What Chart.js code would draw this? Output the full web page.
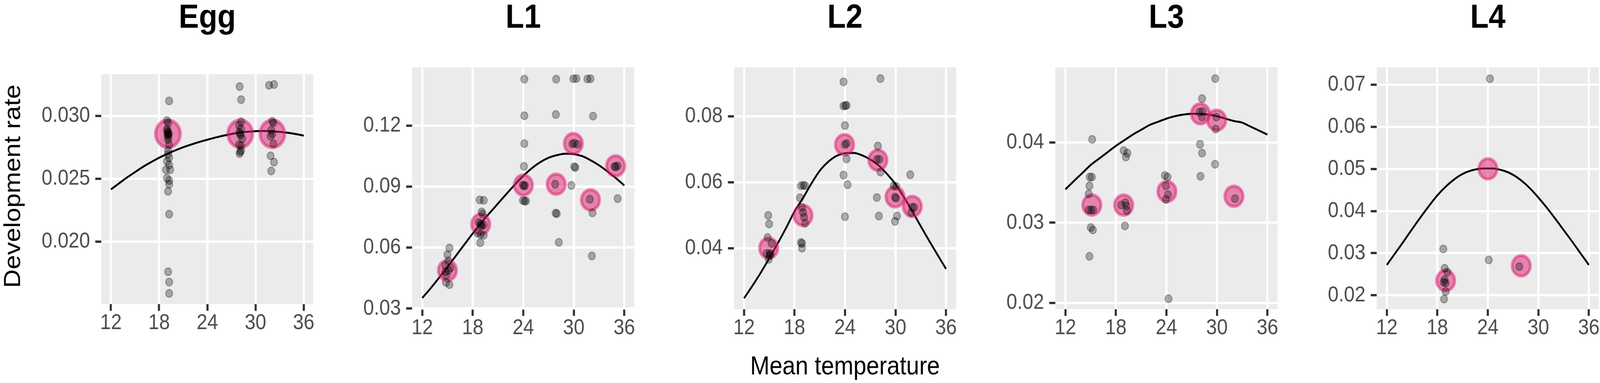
<!DOCTYPE html>
<html>
<head>
<meta charset="utf-8">
<script src="https://cdn.jsdelivr.net/npm/chart.js@4.4.1/dist/chart.umd.min.js"></script>
<style>
html,body{margin:0;padding:0;background:#ffffff;width:100%;height:100%;overflow:hidden;}
#stage{position:absolute;left:0;top:0;width:4550px;height:981px;overflow:hidden;transform-origin:0 0;background:#ffffff;}
canvas{position:absolute;}
.txt{position:absolute;font-family:"Liberation Sans",Arial,Helvetica,sans-serif;white-space:nowrap;text-align:center;color:#000;}
</style>
</head>
<body>
<div id="stage"></div>
<script>
// ---------------- DATA ----------------
const stages = ['Egg', 'L1', 'L2', 'L3', 'L4'];
const xTicks = [12, 18, 24, 30, 36];
const xTickLabels = ['12', '18', '24', '30', '36'];
const xLimits = [10.8, 37.2];
const curveTemps = [12,13,14,15,16,17,18,19,20,21,22,23,24,25,26,27,28,29,30,31,32,33,34,35,36];

// Egg
const eggYTicks = [0.020, 0.025, 0.030];
const eggYTickLabels = ['0.020', '0.025', '0.030'];
const eggYLimits = [0.01505, 0.03330];
const eggCurve = [0.02415,0.02463,0.02510,0.02553,0.02595,0.02632,0.02667,0.02697,0.02725,0.02750,0.02772,0.02792,0.02810,0.02827,0.02842,0.02855,0.02866,0.02873,0.02878,0.02879,0.02877,0.02872,0.02865,0.02855,0.02842];
const eggMeanTemp = [19.1, 28.1, 32.1];
const eggMeanRate = [0.02857, 0.02857, 0.02857];
const eggObsTemp = [19.25,18.98,19.12,19.00,19.12,19.20,19.05,19.15,19.10,19.00,19.05,19.15,19.25,19.12,19.12,19.25,18.98,19.25,18.85,19.38,18.98,19.25,19.25,19.12,19.25,19.12,19.25,19.25,
  28.03,28.21,28.21,27.95,28.21,28.08,28.00,28.15,28.35,27.95,28.21,28.21,28.08,28.03,
  31.69,32.31,32.09,32.23,31.96,32.09,31.88,32.23,31.88,32.31,31.96];
const eggObsRate = [0.03118,0.02962,0.02943,0.02895,0.02870,0.02857,0.02845,0.02830,0.02810,0.02880,0.02865,0.02850,0.02771,0.02724,0.02695,0.02667,0.02638,0.02610,0.02571,0.02571,0.02505,0.02486,0.02457,0.02400,0.02219,0.01762,0.01680,0.01590,
  0.03232,0.03128,0.02952,0.02924,0.02895,0.02857,0.02870,0.02845,0.02819,0.02771,0.02762,0.02724,0.02714,0.02700,
  0.03242,0.03248,0.02956,0.02943,0.02886,0.02857,0.02838,0.02777,0.02682,0.02632,0.02562];

// L1
const l1YTicks = [0.03, 0.06, 0.09, 0.12];
const l1YTickLabels = ['0.03', '0.06', '0.09', '0.12'];
const l1YLimits = [0.0297, 0.1487];
const l1Curve = [0.0352,0.0400,0.0452,0.0505,0.0560,0.0615,0.0670,0.0722,0.0770,0.0817,0.0864,0.0910,0.0953,0.0990,0.1020,0.1042,0.1055,0.1062,0.1060,0.1050,0.1030,0.1005,0.0975,0.0942,0.0906];
const l1MeanTemp = [14.99, 18.94, 24.01, 27.91, 29.95, 31.98, 34.97];
const l1MeanRate = [0.0488, 0.0715, 0.0908, 0.0912, 0.1112, 0.0835, 0.1002];
const l1ObsTemp = [15.23,14.99,15.11,15.35,14.75,14.75,15.11,14.87,14.82,15.23,
  18.82,19.30,19.06,19.18,18.94,18.70,19.30,19.06,18.94,18.58,19.30,18.94,18.89,
  24.13,24.13,24.13,24.08,23.96,24.20,24.08,23.96,24.32,24.16,
  27.91,27.87,27.79,27.84,27.98,28.22,
  29.95,30.31,30.06,29.83,30.43,30.06,30.19,29.71,
  31.62,31.98,32.29,31.91,32.22,32.15,
  34.85,35.21,34.97,35.21];
const l1ObsRate = [0.0598,0.0565,0.0535,0.0500,0.0512,0.0482,0.0488,0.0465,0.0429,0.0418,
  0.0835,0.0833,0.0776,0.0765,0.0718,0.0724,0.0712,0.0706,0.0710,0.0671,0.0661,0.0665,0.0624,
  0.1429,0.1249,0.1112,0.1000,0.0908,0.0906,0.0903,0.0832,0.0830,0.0828,
  0.1429,0.1255,0.0912,0.0770,0.0767,0.0626,
  0.1431,0.1432,0.1114,0.1110,0.1108,0.0998,0.0994,0.0906,
  0.1430,0.1431,0.1247,0.0838,0.0771,0.0559,
  0.0999,0.1002,0.0997,0.0841];

// L2
const l2YTicks = [0.04, 0.06, 0.08];
const l2YTickLabels = ['0.04', '0.06', '0.08'];
const l2YLimits = [0.0216, 0.0948];
const l2Curve = [0.0249,0.0287,0.0327,0.0370,0.0415,0.0462,0.0512,0.0552,0.0596,0.0635,0.0662,0.0680,0.0688,0.0689,0.0682,0.0669,0.0651,0.0625,0.0594,0.0555,0.0512,0.0467,0.0423,0.0380,0.0338];
const l2MeanTemp = [14.93, 19.01, 23.94, 27.90, 29.94, 31.99];
const l2MeanRate = [0.0401, 0.0500, 0.0714, 0.0667, 0.0556, 0.0527];
const l2ObsTemp = [14.88,14.98,14.81,15.29,14.69,15.05,15.17,14.93,15.00,
  18.77,19.06,19.25,18.65,18.89,19.01,19.13,19.25,18.77,18.89,18.89,
  23.82,23.82,24.18,24.05,23.99,23.99,24.18,24.18,23.82,24.30,23.99,
  28.21,27.90,27.78,28.09,28.21,27.78,28.02,
  29.78,30.06,29.94,30.06,30.18,29.94,
  31.75,31.99,32.23,31.87];
const l2ObsRate = [0.0500,0.0474,0.0433,0.0415,0.0385,0.0385,0.0382,0.0367,0.0378,
  0.0590,0.0591,0.0590,0.0553,0.0524,0.0509,0.0495,0.0476,0.0418,0.0415,0.0401,
  0.0904,0.0831,0.0833,0.0832,0.0772,0.0714,0.0718,0.0671,0.0622,0.0593,0.0496,
  0.0914,0.0710,0.0669,0.0670,0.0631,0.0554,0.0498,
  0.0589,0.0588,0.0555,0.0552,0.0498,0.0482,
  0.0623,0.0525,0.0524,0.0508];

// L3
const l3YTicks = [0.02, 0.03, 0.04];
const l3YTickLabels = ['0.02', '0.03', '0.04'];
const l3YLimits = [0.0192, 0.0494];
const l3Curve = [0.03416,0.0352,0.0362,0.0372,0.0380,0.0388,0.0396,0.0403,0.0410,0.0416,0.0422,0.0426,0.0430,0.0433,0.0435,0.0436,0.0436,0.0435,0.0433,0.0430,0.0427,0.0425,0.0420,0.0415,0.0410];
const l3MeanTemp = [15.14, 18.92, 24.06, 28.04, 29.97, 32.02];
const l3MeanRate = [0.0322, 0.0322, 0.0339, 0.0436, 0.0428, 0.0333];
const l3ObsTemp = [15.18,14.89,15.14,14.85,14.77,14.77,15.06,15.30,15.01,15.26,14.85,
  18.92,19.36,19.19,18.63,19.12,19.24,19.31,19.07,
  23.82,24.13,23.94,24.18,23.94,24.25,
  28.23,27.92,28.28,28.23,27.99,28.23,28.04,
  29.80,29.92,29.85,29.78,
  32.14];
const l3ObsRate = [0.0404,0.0357,0.0357,0.0346,0.0336,0.0316,0.0316,0.0316,0.0294,0.0291,0.0258,
  0.0390,0.0387,0.0382,0.0322,0.0325,0.0321,0.0315,0.0296,
  0.0359,0.0357,0.0346,0.0335,0.0329,0.0205,
  0.0455,0.0438,0.0439,0.0432,0.0398,0.0387,0.0358,
  0.0480,0.0432,0.0417,0.0373,
  0.0330];

// L4
const l4YTicks = [0.02, 0.03, 0.04, 0.05, 0.06, 0.07];
const l4YTickLabels = ['0.02', '0.03', '0.04', '0.05', '0.06', '0.07'];
const l4YLimits = [0.0167, 0.0741];
const l4Curve = [0.0272,0.0300,0.0328,0.0357,0.0385,0.0412,0.0437,0.0458,0.0475,0.0488,0.0496,0.0500,0.0501,0.0500,0.0495,0.0486,0.0472,0.0454,0.0432,0.0408,0.0382,0.0355,0.0328,0.0300,0.0272];
const l4MeanTemp = [18.99, 24.01, 27.97];
const l4MeanRate = [0.0235, 0.0500, 0.0270];
const l4ObsTemp = [18.71,18.87,19.19,18.87,18.75,18.99,18.99,18.80, 24.25,24.11, 27.73];
const l4ObsRate = [0.0310,0.0264,0.0255,0.0237,0.0231,0.0229,0.0209,0.0191, 0.0714,0.0284, 0.0268];

// ---------------- LAYOUT & STYLE ----------------
const DESIGN_W = 4550, DESIGN_H = 981;
const stage = document.getElementById('stage');
(function fitStage() {
  const vw = document.documentElement.clientWidth || window.innerWidth || DESIGN_W;
  const vh = document.documentElement.clientHeight || window.innerHeight || DESIGN_H;
  const sx = vw / DESIGN_W, sy = vh / DESIGN_H;
  if (Math.abs(sx - 1) > 0.002 || Math.abs(sy - 1) > 0.002) {
    stage.style.transform = 'scale(' + sx + ',' + sy + ')';
  }
})();

const FONT = '"Liberation Sans", Arial, Helvetica, sans-serif';
Chart.defaults.font.family = FONT;
const AX = 240, PT = 30, PR = 50, XB = 120;          // canvas margins around each panel
const panelBoxes = [
  {L: 288,  T: 176, W: 603, H: 603, pinkR: 35, pinkBW: 9},
  {L: 1172, T: 160, W: 632, H: 632, pinkR: 26, pinkBW: 8},
  {L: 2087, T: 160, W: 632, H: 632, pinkR: 26, pinkBW: 8},
  {L: 3001, T: 160, W: 632, H: 632, pinkR: 26, pinkBW: 8},
  {L: 3915, T: 160, W: 632, H: 632, pinkR: 26, pinkBW: 8}
];
const panelData = [
  {curve: eggCurve, mT: eggMeanTemp, mR: eggMeanRate, oT: eggObsTemp, oR: eggObsRate, yt: eggYTicks, yl: eggYTickLabels, lim: eggYLimits},
  {curve: l1Curve, mT: l1MeanTemp, mR: l1MeanRate, oT: l1ObsTemp, oR: l1ObsRate, yt: l1YTicks, yl: l1YTickLabels, lim: l1YLimits},
  {curve: l2Curve, mT: l2MeanTemp, mR: l2MeanRate, oT: l2ObsTemp, oR: l2ObsRate, yt: l2YTicks, yl: l2YTickLabels, lim: l2YLimits},
  {curve: l3Curve, mT: l3MeanTemp, mR: l3MeanRate, oT: l3ObsTemp, oR: l3ObsRate, yt: l3YTicks, yl: l3YTickLabels, lim: l3YLimits},
  {curve: l4Curve, mT: l4MeanTemp, mR: l4MeanRate, oT: l4ObsTemp, oR: l4ObsRate, yt: l4YTicks, yl: l4YTickLabels, lim: l4YLimits}
];

const panelBg = {
  id: 'panelBg',
  beforeDraw(chart) {
    const a = chart.chartArea, ctx = chart.ctx;
    ctx.save();
    ctx.fillStyle = '#EBEBEB';
    ctx.fillRect(a.left, a.top, a.right - a.left, a.bottom - a.top);
    ctx.restore();
  }
};

function addText(str, cls) {
  const d = document.createElement('div');
  d.className = 'txt';
  d.textContent = str;
  Object.assign(d.style, cls);
  stage.appendChild(d);
  return d;
}

panelBoxes.forEach((g, i) => {
  const d = panelData[i];
  const cw = AX + g.W + PR, ch = PT + g.H + XB;
  const c = document.createElement('canvas');
  c.width = cw; c.height = ch;
  c.style.left = (g.L - AX) + 'px';
  c.style.top = (g.T - PT) + 'px';
  c.style.width = cw + 'px';
  c.style.height = ch + 'px';
  stage.appendChild(c);

  new Chart(c, {
    type: 'scatter',
    data: {
      datasets: [
        {
          type: 'line',
          data: curveTemps.map((t, k) => ({x: t, y: d.curve[k]})),
          borderColor: '#000000', borderWidth: 5, pointRadius: 0,
          tension: 0.4, cubicInterpolationMode: 'monotone', fill: false,
          order: 3, clip: 0
        },
        {
          data: d.mT.map((t, k) => ({x: t, y: d.mR[k]})),
          pointBackgroundColor: 'rgba(221,28,112,0.5)',
          pointBorderColor: 'rgba(221,28,112,0.5)',
          pointBorderWidth: g.pinkBW, pointRadius: g.pinkR, pointHoverRadius: g.pinkR,
          order: 2, clip: 0
        },
        {
          data: d.oT.map((t, k) => ({x: t, y: d.oR[k]})),
          pointBackgroundColor: 'rgba(0,0,0,0.3)',
          pointBorderColor: 'rgba(0,0,0,0.3)',
          pointBorderWidth: 2.5, pointRadius: 10, pointHoverRadius: 10,
          order: 1, clip: 0
        }
      ]
    },
    options: {
      responsive: false, animation: false, devicePixelRatio: 1, events: [],
      layout: {padding: {top: PT, right: PR, left: 0, bottom: 0}},
      plugins: {legend: {display: false}, tooltip: {enabled: false}, title: {display: false}},
      scales: {
        x: {
          type: 'linear', min: xLimits[0], max: xLimits[1],
          afterBuildTicks: s => { s.ticks = xTicks.map(v => ({value: v})); },
          afterFit: s => { s.height = XB; },
          ticks: {
            callback: (v, idx) => xTickLabels[idx],
            font: {size: 55, lineHeight: 1}, color: '#4D4D4D', padding: 4,
            maxRotation: 0, minRotation: 0, autoSkip: false
          },
          grid: {color: '#FFFFFF', lineWidth: 6, tickColor: '#333333', tickWidth: 6, tickLength: 17, drawTicks: true},
          border: {display: false}
        },
        y: {
          type: 'linear', min: d.lim[0], max: d.lim[1],
          afterBuildTicks: s => { s.ticks = d.yt.map(v => ({value: v})); },
          afterFit: s => { s.width = AX; },
          ticks: {
            callback: (v, idx) => d.yl[idx],
            font: {size: 55, lineHeight: 1}, color: '#4D4D4D', padding: 15, autoSkip: false
          },
          grid: {color: '#FFFFFF', lineWidth: 6, tickColor: '#333333', tickWidth: 6, tickLength: 17, drawTicks: true},
          border: {display: false}
        }
      }
    },
    plugins: [panelBg]
  });

  // panel title
  addText(stages[i], {
    left: (g.L + g.W / 2 - 300) + 'px', width: '600px', top: '-2px',
    fontSize: '86px', lineHeight: '86px', fontWeight: 'bold'
  });
});

// axis titles
addText('Mean temperature', {
  left: (panelBoxes[2].L + panelBoxes[2].W / 2 - 400) + 'px', width: '800px',
  top: '903px', fontSize: '66px', lineHeight: '66px'
});
addText('Development rate', {
  left: (34 - 400) + 'px', width: '800px', top: (477 - 33) + 'px',
  fontSize: '66px', lineHeight: '66px', transform: 'rotate(-90deg)', transformOrigin: '50% 50%'
});
</script>
</body>
</html>
